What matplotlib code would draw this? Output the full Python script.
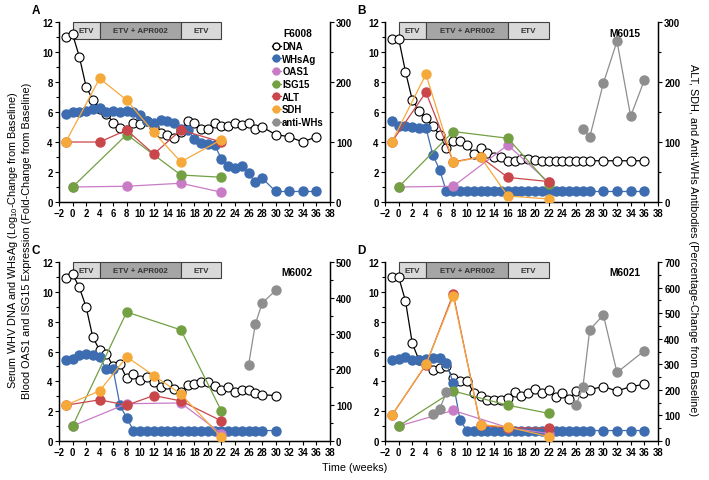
import matplotlib
matplotlib.use("Agg")
import matplotlib.pyplot as plt
from matplotlib.lines import Line2D
from matplotlib.patches import Rectangle
from matplotlib.ticker import MultipleLocator
import numpy as np

plt.rcParams['font.family'] = ['Liberation Sans', 'DejaVu Sans']
plt.rcParams['mathtext.default'] = 'regular'

# ---------------- data ----------------
wk_A = list(range(-1, 29)) + [30, 32, 34, 36]
dna_A = [11.0, 11.2, 9.7, 7.7, 6.8, 6.2, 5.9, 5.3, 4.95, 4.8, 5.3, 5.2, 5.4, 5.0, 4.6, 4.5, 4.3, 4.7,
         5.4, 5.3, 4.9, 4.9, 5.3, 5.05, 5.05, 5.25, 5.15, 5.3, 4.85, 5.0, 4.5, 4.35, 4.0, 4.35]
hbs_A = [5.85, 6.0, 6.0, 6.1, 6.2, 6.3, 6.0, 6.05, 6.0, 6.05, 6.0, 5.8, 5.4, 5.3, 5.45, 5.4, 5.25,
         4.85, 4.8, 4.2, 3.95, 3.9, 3.8, 2.85, 2.4, 2.3, 2.4, 1.95, 1.3, 1.6, 0.7, 0.7, 0.7, 0.7]
iwk = [0, 8, 16, 22]
oas_A = [1.0, 1.05, 1.25, 0.65]
isg_A = [1.0, 4.5, 1.8, 1.65]
lwk = [-1, 4, 8, 12, 16, 22]
alt_A = [100, 100, 120, 80, 120, 100]
sdh_A = [100, 206, 170, 116, 67, 104]
ab_wk_A = []
ab_A = []

wk_B = list(range(-1, 29)) + [30, 32, 34, 36]
dna_B = [10.9, 10.9, 8.7, 6.8, 6.1, 5.6, 5.05, 4.5, 3.6, 4.05, 4.05, 3.8, 3.2, 3.6, 3.25, 3.0, 3.0,
         2.75, 2.75, 2.9, 2.9, 2.8, 2.75, 2.75, 2.75, 2.75, 2.75, 2.75, 2.75, 2.75, 2.75, 2.75, 2.75, 2.75]
hbs_B = [5.4, 5.1, 5.05, 5.0, 4.95, 4.95, 3.15, 2.15] + [0.7] * 26
oas_B = [1.0, 1.05, 3.8, 1.3]
isg_B = [1.0, 4.7, 4.25, 1.2]
alt_B = [100, 183, 67, 75, 41, 34]
sdh_B = [100, 213, 66, 75, 10, 5]
ab_wk_B = [27, 28, 30, 32, 34, 36]
ab_B = [121, 108, 198, 268, 143, 203]

wk_C = list(range(-1, 29)) + [30]
dna_C = [10.9, 11.2, 10.3, 9.0, 6.95, 6.1, 5.85, 5.0, 5.15, 4.2, 4.5, 4.1, 4.3, 3.95, 3.6, 3.85, 3.5,
         3.3, 3.75, 3.85, 3.95, 3.95, 3.7, 3.4, 3.6, 3.3, 3.4, 3.4, 3.2, 3.1, 3.05]
hbs_C = [5.45, 5.5, 5.75, 5.85, 5.75, 5.65, 4.8, 4.8, 2.4, 1.55] + [0.7] * 21
oas_C = [1.0, 2.5, 2.55, 0.5]
isg_C = [1.0, 8.65, 7.45, 2.0]
alt_C = [100, 115, 100, 127, 112, 56]
sdh_C = [100, 140, 235, 183, 131, 10]
ab_wk_C = [26, 27, 28, 30]
ab_C = [212, 327, 385, 421]

wk_D = list(range(-1, 29)) + [30, 32, 34, 36]
dna_D = [11.0, 11.0, 9.4, 6.55, 5.4, 5.4, 4.75, 4.9, 5.0, 4.2, 4.05, 4.05, 3.25, 3.0, 2.75, 2.75, 2.75,
         2.85, 3.3, 3.0, 3.2, 3.5, 3.25, 3.45, 2.95, 3.2, 2.8, 3.35, 3.25, 3.45, 3.65, 3.35, 3.65, 3.8]
hbs_D = [5.4, 5.5, 5.6, 5.4, 5.45, 5.5, 5.55, 5.55, 5.2, 3.9, 1.4] + [0.7] * 23
oas_D = [1.0, 2.05, 0.9, 0.5]
isg_D = [1.0, 3.35, 2.4, 1.85]
alt_D = [100, 298, 575, 61, 52, 50]
sdh_D = [100, 300, 566, 64, 55, 17]
ab_wk_D = [5, 6, 7, None, 26, 27, 28, 30, 32, 36]
ab_D = [105, 125, 190, None, 140, 210, 435, 493, 268, 353]

panels = [
    dict(letter='A', animal='F6008', wk=wk_A, dna=dna_A, hbs=hbs_A, oas=oas_A, isg=isg_A,
         alt=alt_A, sdh=sdh_A, abwk=ab_wk_A, ab=ab_A, rmax=300, legend=True),
    dict(letter='B', animal='M6015', wk=wk_B, dna=dna_B, hbs=hbs_B, oas=oas_B, isg=isg_B,
         alt=alt_B, sdh=sdh_B, abwk=ab_wk_B, ab=ab_B, rmax=300, legend=False),
    dict(letter='C', animal='M6002', wk=wk_C, dna=dna_C, hbs=hbs_C, oas=oas_C, isg=isg_C,
         alt=alt_C, sdh=sdh_C, abwk=ab_wk_C, ab=ab_C, rmax=500, legend=False),
    dict(letter='D', animal='M6021', wk=wk_D, dna=dna_D, hbs=hbs_D, oas=oas_D, isg=isg_D,
         alt=alt_D, sdh=sdh_D, abwk=ab_wk_D, ab=ab_D, rmax=700, legend=False),
]

phases = [(0, 4, 'ETV', '#d9d9d9'), (4, 16, 'ETV + APR002', '#a5a5a5'), (16, 22, 'ETV', '#d9d9d9')]

C_DNA = 'black'
C_HBS = '#3d6db0'
C_OAS = '#c97cc6'
C_ISG = '#72a043'
C_ALT = '#c9474b'
C_SDH = '#f6a93b'
C_AB = '#8e8e8e'

# ---------------- figure ----------------
fig = plt.figure(figsize=(7.09, 4.81), dpi=100)
positions = [(0.0832, 0.578, 0.382, 0.374), (0.543, 0.578, 0.385, 0.374),
             (0.0832, 0.0811, 0.382, 0.372), (0.543, 0.0811, 0.385, 0.372)]

fs_tick = 6.9
ms = 6.5
for p, pos in zip(panels, positions):
    ax = fig.add_axes(pos)
    ax2 = ax.twinx()
    ax.set_xlim(-2, 38)
    ax.set_ylim(0, 12)
    ax2.set_ylim(0, p['rmax'])
    ax.xaxis.set_major_locator(MultipleLocator(2))
    ax.yaxis.set_major_locator(MultipleLocator(2))
    ax.yaxis.set_minor_locator(MultipleLocator(1))
    ax2.yaxis.set_major_locator(MultipleLocator(100))
    ax2.yaxis.set_minor_locator(MultipleLocator(50))
    for a in (ax, ax2):
        a.spines['top'].set_visible(False)
        a.tick_params(which='both', direction='out', labelsize=fs_tick, width=0.8, pad=1.5)
        a.tick_params(which='major', length=3)
        a.tick_params(which='minor', length=2)
        for lab in a.get_xticklabels() + a.get_yticklabels():
            lab.set_fontweight('bold')
    for s in ('left', 'bottom'):
        ax.spines[s].set_linewidth(1.0)
    ax2.spines['right'].set_linewidth(1.0)

    # treatment bar
    for x0, x1, txt, col in phases:
        ax.add_patch(Rectangle((x0, 10.9), x1 - x0, 1.1, facecolor=col, edgecolor='#404040',
                               linewidth=0.8, zorder=1, clip_on=False))
        ax.text((x0 + x1) / 2, 11.45, txt, ha='center', va='center', fontsize=5.8,
                fontweight='bold', color='#333333', zorder=2)

    ax.plot(p['wk'], p['dna'], color=C_DNA, lw=0.9, marker='o', ms=ms, mfc='white',
            mec='black', mew=0.8, zorder=3)
    ax.plot(p['wk'], p['hbs'], color=C_HBS, lw=0.9, marker='o', ms=ms, mfc=C_HBS,
            mec=C_HBS, zorder=4)
    ax.plot(iwk, p['oas'], color=C_OAS, lw=0.9, marker='o', ms=ms, mfc=C_OAS, mec=C_OAS, zorder=5)
    ax.plot(iwk, p['isg'], color=C_ISG, lw=0.9, marker='o', ms=ms, mfc=C_ISG, mec=C_ISG, zorder=6)

    ax2.plot(lwk, p['alt'], color=C_ALT, lw=0.9, marker='o', ms=ms, mfc=C_ALT, mec=C_ALT, zorder=3)
    ax2.plot(lwk, p['sdh'], color=C_SDH, lw=0.9, marker='o', ms=ms, mfc=C_SDH, mec=C_SDH, zorder=4)
    if p['abwk']:
        abx = np.array([np.nan if v is None else v for v in p['abwk']], dtype=float)
        aby = np.array([np.nan if v is None else v for v in p['ab']], dtype=float)
        ax2.plot(abx, aby, color=C_AB, lw=0.9, marker='o', ms=ms, mfc=C_AB, mec=C_AB, zorder=5)

    ax.text(-0.1, 1.035, p['letter'], transform=ax.transAxes, fontsize=8.5, fontweight='bold',
            ha='left', va='bottom')
    ax.text(33.2, 11.3, p['animal'], fontsize=7.3, fontweight='bold', ha='center', va='center')

    if p['legend']:
        handles = [
            Line2D([], [], color=C_DNA, lw=0.9, marker='o', ms=5, mfc='white', mec='black'),
            Line2D([], [], color=C_HBS, lw=0.9, marker='o', ms=5, mfc=C_HBS, mec=C_HBS),
            Line2D([], [], color=C_OAS, lw=0.9, marker='o', ms=5, mfc=C_OAS, mec=C_OAS),
            Line2D([], [], color=C_ISG, lw=0.9, marker='o', ms=5, mfc=C_ISG, mec=C_ISG),
            Line2D([], [], color=C_ALT, lw=0.9, marker='o', ms=5, mfc=C_ALT, mec=C_ALT),
            Line2D([], [], color=C_SDH, lw=0.9, marker='o', ms=5, mfc=C_SDH, mec=C_SDH),
            Line2D([], [], color=C_AB, lw=0.9, marker='o', ms=5, mfc=C_AB, mec=C_AB),
        ]
        labels = ['DNA', 'WHsAg', 'OAS1', 'ISG15', 'ALT', 'SDH', 'anti-WHs']
        leg = ax2.legend(handles, labels, loc='upper left', bbox_to_anchor=(0.785, 0.895),
                         frameon=False, fontsize=6.9, handlelength=1.0, handletextpad=0.1,
                         labelspacing=0.28, borderpad=0, borderaxespad=0)
        for t in leg.get_texts():
            t.set_fontweight('bold')

fig.text(0.018, 0.5, 'Serum WHV DNA and WHsAg (Log$_{10}$-Change from Baseline)',
         rotation=90, ha='center', va='center', fontsize=7.8)
fig.text(0.038, 0.5, 'Blood OAS1 and ISG15 Expression (Fold-Change from Baseline)',
         rotation=90, ha='center', va='center', fontsize=7.8)
fig.text(0.977, 0.5, 'ALT, SDH, and Anti-WHs Antibodies (Percentage-Change from Baseline)',
         rotation=270, ha='center', va='center', fontsize=7.8)
fig.text(0.5, 0.027, 'Time (weeks)', ha='center', va='center', fontsize=7.8)

fig.savefig('out.png', dpi=100)
